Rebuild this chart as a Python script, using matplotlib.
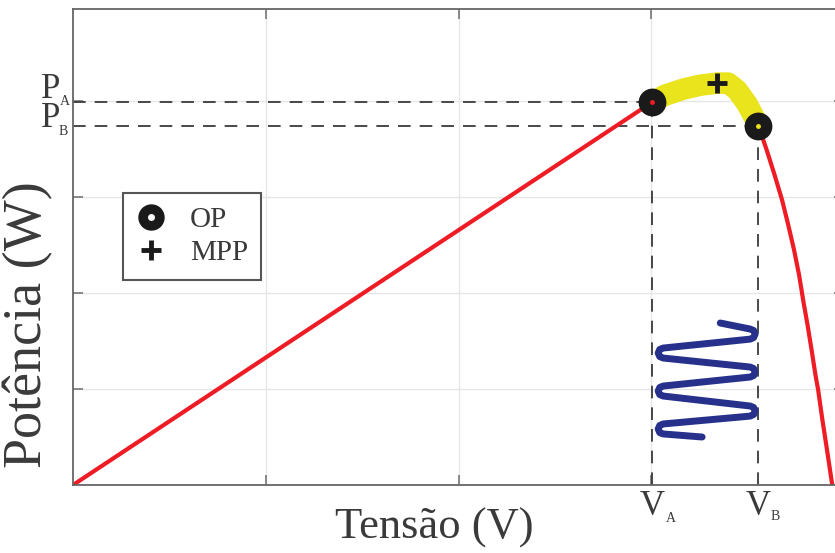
import matplotlib
matplotlib.use("Agg")
import matplotlib.pyplot as plt
from matplotlib.lines import Line2D
from matplotlib.legend_handler import HandlerTuple

plt.rcParams["font.family"]=["Liberation Serif","DejaVu Serif"]

# curva P-V (tensao em V, potencia em W)
tensao=[0.0,30.05,30.72,31.66,32.54,33.42,33.99,34.46,34.98,35.55,35.76,35.99,36.40,36.79,37.11,
        37.41,37.67,37.88,38.11,38.32,38.52,38.66,38.88,39.12,39.39]
potencia=[0.0,199.5,203.1,206.25,208.3,209.4,209.4,205.7,198.4,187.5,181.25,174.5,161.5,148.4,135.4,
          122.4,109.4,96.4,83.3,70.3,57.3,49.5,33.9,18.2,0.0]
# trecho de oscilacao entre A e B (destacado em amarelo)
trecho_v=tensao[1:10]
trecho_p=potencia[1:10]

# pontos de operacao e MPP
V_A,P_A=30.05,199.5
V_B,P_B=35.55,187.0
V_mpp,P_mpp=33.42,209.4

# mola (oscilacao da tensao)
mola_v=[33.58,
        35.13,35.31,35.39,35.31,35.13,
        30.62,30.44,30.36,30.44,30.62,
        35.13,35.31,35.39,35.31,35.13,
        30.62,30.44,30.36,30.44,30.62,
        35.13,35.31,35.39,35.31,35.13,
        30.62,30.44,30.36,30.44,30.62,
        32.64]
mola_p=[84.4,
        81.25,80.5,78.65,76.8,76.0,
        71.35,70.6,68.75,66.9,66.15,
        61.45,60.7,58.85,57.0,56.25,
        51.55,50.8,48.95,47.1,46.35,
        41.15,40.4,38.55,36.7,35.9,
        31.8,31.0,29.2,27.3,26.6,
        25.0]

grid_v=[10,20,30]
grid_p=[50,100,150,200]

cinza="#3a3a3a"
fig=plt.figure(figsize=(8.35,5.53),dpi=100)
ax=fig.add_axes([73/835,68/553,771/835,476/553])
ax.set_xlim(0,40)
ax.set_ylim(0,248)
ax.set_xticks(grid_v)
ax.set_yticks(grid_p)
ax.set_xticklabels([])
ax.set_yticklabels([])
ax.tick_params(direction="in",length=7,width=1.2,color="#777777",top=True,right=True)
ax.grid(True,color="#e6e6e6",lw=1.0)
ax.set_axisbelow(True)
for s in ax.spines.values():
    s.set_color("#666666")
    s.set_linewidth(1.3)

# linhas tracejadas de referencia
tr=dict(color=cinza,lw=1.3,ls=(0,(7,5)),zorder=1.5)
ax.plot([0,V_A],[P_A,P_A],**tr)
ax.plot([0,V_B],[P_B,P_B],**tr)
ax.plot([V_A,V_A],[0,P_A],**tr)
ax.plot([V_B,V_B],[0,P_B],**tr)

ax.plot(tensao,potencia,color="#ee1c24",lw=3,zorder=2,solid_joinstyle="round")
ax.plot(trecho_v,trecho_p,color="#e9e41c",lw=15.5,solid_capstyle="round",solid_joinstyle="round",zorder=3)
ax.plot(mola_v,mola_p,color="#27318b",lw=5,solid_joinstyle="round",solid_capstyle="round",zorder=3)

ax.plot([V_A],[P_A],"o",ms=19,color="#1a1a1a",zorder=5)
ax.plot([V_A],[P_A],"o",ms=2.5,color="#ee1c24",zorder=6)
ax.plot([V_B],[P_B],"o",ms=19,color="#1a1a1a",zorder=5)
ax.plot([V_B],[P_B],"o",ms=2.5,color="#e9e41c",zorder=6)
ax.plot([V_mpp],[P_mpp],"+",ms=15,mew=3.5,color="#1a1a1a",zorder=6)

# legenda
op=(Line2D([],[],ls="",marker="o",ms=18,color="#1a1a1a"),
    Line2D([],[],ls="",marker="o",ms=4,color="white"))
mpp=Line2D([],[],ls="",marker="+",ms=15,mew=3.5,color="#1a1a1a")
leg=ax.legend([op,mpp],["OP","MPP"],loc="upper left",bbox_to_anchor=(0.065,0.613),
              borderaxespad=0,fontsize=21,handler_map={tuple:HandlerTuple(ndivide=1)},
              fancybox=False,framealpha=1,edgecolor="#555555",handlelength=1.0,
              handletextpad=0.85,labelspacing=0.25,borderpad=0.45)
leg.get_frame().set_linewidth(1.5)
for t in leg.get_texts():
    t.set_color(cinza)

# rotulos P_A, P_B, V_A, V_B
ymix=("axes fraction","data")
ax.annotate("P",xy=(0,P_A),xycoords=ymix,xytext=(-9.4,2.9),textcoords="offset points",ha="right",va="baseline",fontsize=25,color=cinza)
ax.annotate("A",xy=(0,P_A),xycoords=ymix,xytext=(-2.2,-2.2),textcoords="offset points",ha="right",va="baseline",fontsize=10,color=cinza)
ax.annotate("P",xy=(0,P_B),xycoords=ymix,xytext=(-9.4,-0.7),textcoords="offset points",ha="right",va="baseline",fontsize=25,color=cinza)
ax.annotate("B",xy=(0,P_B),xycoords=ymix,xytext=(-3.6,-6.5),textcoords="offset points",ha="right",va="baseline",fontsize=10,color=cinza)
ax.annotate("V",xy=(V_A,0),xytext=(0,-21.6),textcoords="offset points",ha="center",va="baseline",fontsize=25,color=cinza,annotation_clip=False)
ax.annotate("A",xy=(V_A,0),xytext=(9.5,-26.6),textcoords="offset points",ha="left",va="baseline",fontsize=10,color=cinza,annotation_clip=False)
ax.annotate("V",xy=(V_B,0),xytext=(0,-21.6),textcoords="offset points",ha="center",va="baseline",fontsize=25,color=cinza,annotation_clip=False)
ax.annotate("B",xy=(V_B,0),xytext=(8.6,-25.2),textcoords="offset points",ha="left",va="baseline",fontsize=10,color=cinza,annotation_clip=False)

ax.set_xlabel("Tensão (V)",fontsize=32,color=cinza)
ax.xaxis.set_label_coords(0.468,-0.048)
ax.set_ylabel("Potência (W)",fontsize=39,color=cinza)
ax.yaxis.set_label_coords(-0.025,0.336)

fig.savefig("out.png",dpi=100)
